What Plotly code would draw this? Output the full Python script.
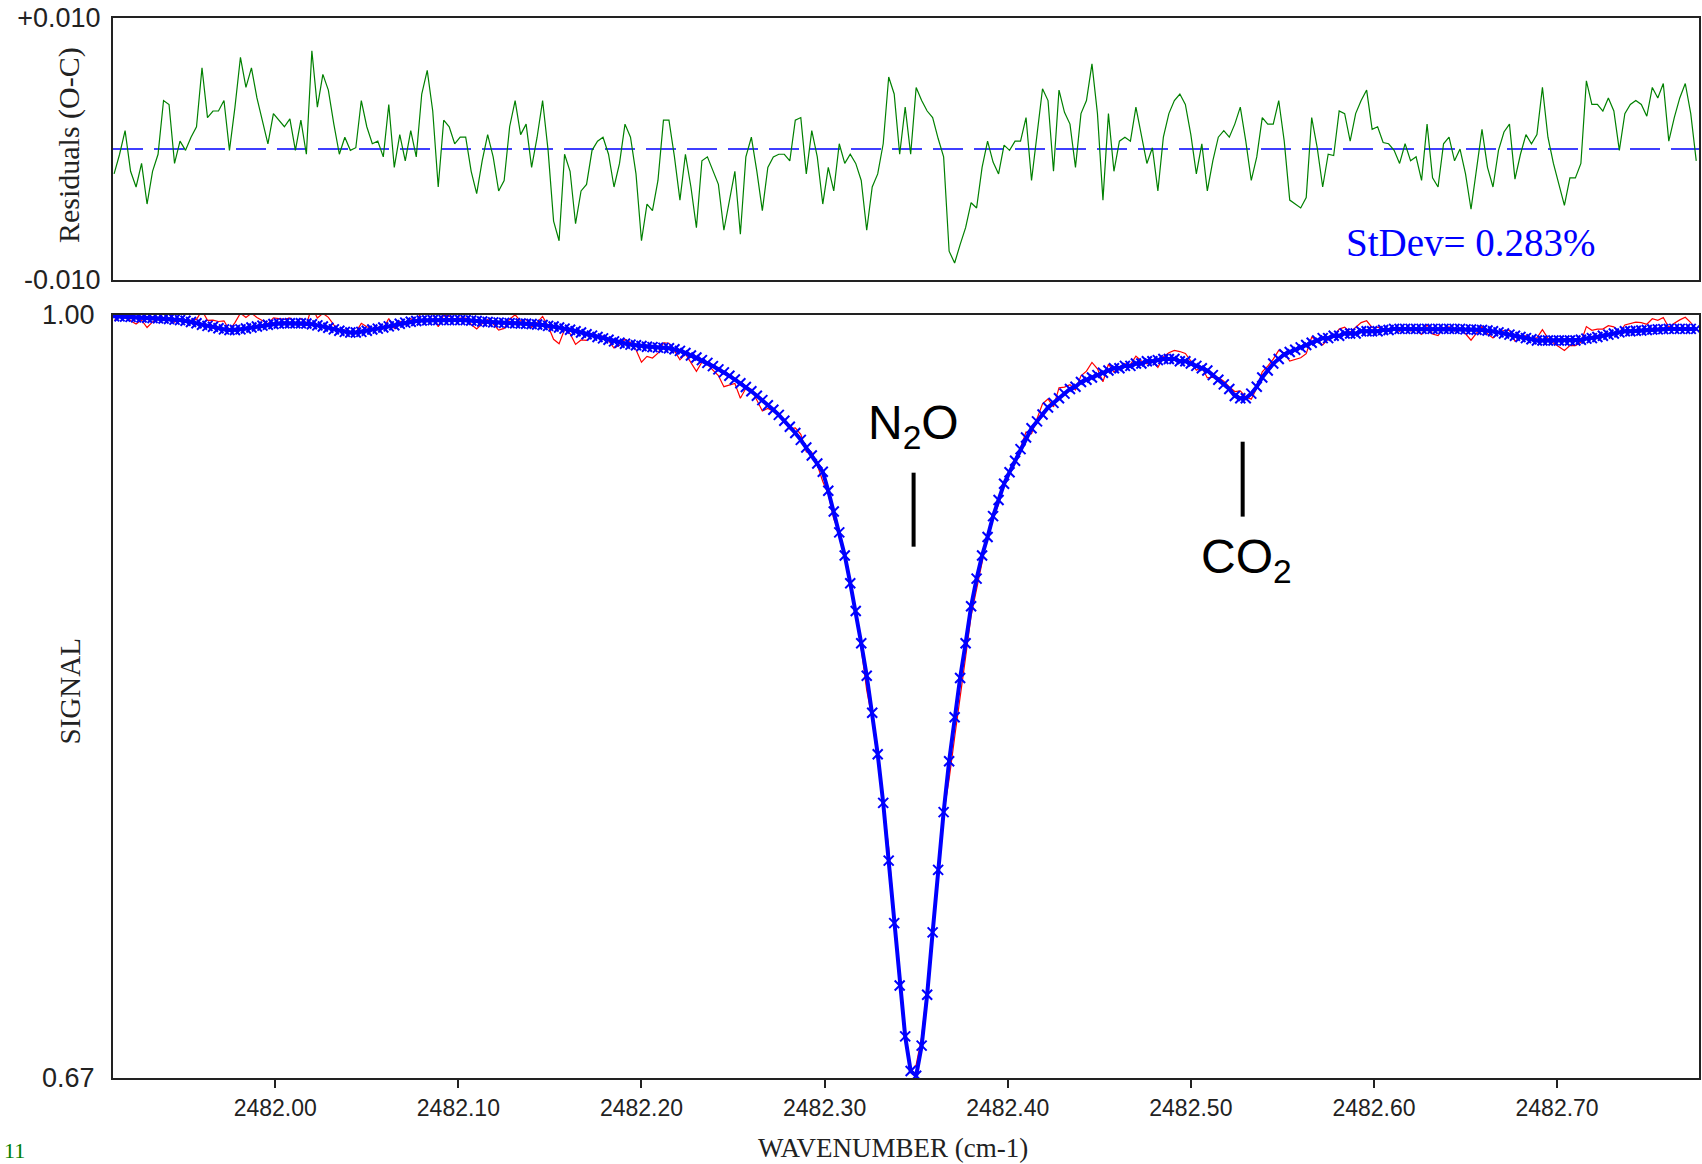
import plotly.graph_objects as go

# ---------------- data ----------------
WAVENUMBER = [
    2481.912, 2481.915, 2481.918, 2481.921, 2481.924, 2481.927, 2481.930, 2481.933, 2481.936, 2481.939,
    2481.942, 2481.945, 2481.948, 2481.951, 2481.954, 2481.957, 2481.960, 2481.963, 2481.966, 2481.969,
    2481.972, 2481.975, 2481.978, 2481.981, 2481.984, 2481.987, 2481.990, 2481.993, 2481.996, 2481.999,
    2482.002, 2482.005, 2482.008, 2482.011, 2482.014, 2482.017, 2482.020, 2482.023, 2482.026, 2482.029,
    2482.032, 2482.035, 2482.038, 2482.041, 2482.044, 2482.047, 2482.050, 2482.053, 2482.056, 2482.059,
    2482.062, 2482.065, 2482.068, 2482.071, 2482.074, 2482.077, 2482.080, 2482.083, 2482.086, 2482.089,
    2482.092, 2482.095, 2482.098, 2482.101, 2482.104, 2482.107, 2482.110, 2482.113, 2482.116, 2482.119,
    2482.122, 2482.125, 2482.128, 2482.131, 2482.134, 2482.137, 2482.140, 2482.143, 2482.146, 2482.149,
    2482.152, 2482.155, 2482.158, 2482.161, 2482.164, 2482.167, 2482.170, 2482.173, 2482.176, 2482.179,
    2482.182, 2482.185, 2482.188, 2482.191, 2482.194, 2482.197, 2482.200, 2482.203, 2482.206, 2482.209,
    2482.212, 2482.215, 2482.218, 2482.221, 2482.224, 2482.227, 2482.230, 2482.233, 2482.236, 2482.239,
    2482.242, 2482.245, 2482.248, 2482.251, 2482.254, 2482.257, 2482.260, 2482.263, 2482.266, 2482.269,
    2482.272, 2482.275, 2482.278, 2482.281, 2482.284, 2482.287, 2482.290, 2482.293, 2482.296, 2482.299,
    2482.302, 2482.305, 2482.308, 2482.311, 2482.314, 2482.317, 2482.320, 2482.323, 2482.326, 2482.329,
    2482.332, 2482.335, 2482.338, 2482.341, 2482.344, 2482.347, 2482.350, 2482.353, 2482.356, 2482.359,
    2482.362, 2482.365, 2482.368, 2482.371, 2482.374, 2482.377, 2482.380, 2482.383, 2482.386, 2482.389,
    2482.392, 2482.395, 2482.398, 2482.401, 2482.404, 2482.407, 2482.410, 2482.413, 2482.416, 2482.419,
    2482.422, 2482.425, 2482.428, 2482.431, 2482.434, 2482.437, 2482.440, 2482.443, 2482.446, 2482.449,
    2482.452, 2482.455, 2482.458, 2482.461, 2482.464, 2482.467, 2482.470, 2482.473, 2482.476, 2482.479,
    2482.482, 2482.485, 2482.488, 2482.491, 2482.494, 2482.497, 2482.500, 2482.503, 2482.506, 2482.509,
    2482.512, 2482.515, 2482.518, 2482.521, 2482.524, 2482.527, 2482.530, 2482.533, 2482.536, 2482.539,
    2482.542, 2482.545, 2482.548, 2482.551, 2482.554, 2482.557, 2482.560, 2482.563, 2482.566, 2482.569,
    2482.572, 2482.575, 2482.578, 2482.581, 2482.584, 2482.587, 2482.590, 2482.593, 2482.596, 2482.599,
    2482.602, 2482.605, 2482.608, 2482.611, 2482.614, 2482.617, 2482.620, 2482.623, 2482.626, 2482.629,
    2482.632, 2482.635, 2482.638, 2482.641, 2482.644, 2482.647, 2482.650, 2482.653, 2482.656, 2482.659,
    2482.662, 2482.665, 2482.668, 2482.671, 2482.674, 2482.677, 2482.680, 2482.683, 2482.686, 2482.689,
    2482.692, 2482.695, 2482.698, 2482.701, 2482.704, 2482.707, 2482.710, 2482.713, 2482.716, 2482.719,
    2482.722, 2482.725, 2482.728, 2482.731, 2482.734, 2482.737, 2482.740, 2482.743, 2482.746, 2482.749,
    2482.752, 2482.755, 2482.758, 2482.761, 2482.764, 2482.767, 2482.770, 2482.773, 2482.776,
]

# calculated (fitted) signal - blue crosses
FIT_SIGNAL = [
    0.9995, 0.9994, 0.9993, 0.9992, 0.9990, 0.9989, 0.9988, 0.9987, 0.9986, 0.9985,
    0.9983, 0.9980, 0.9978, 0.9975, 0.9970, 0.9964, 0.9958, 0.9953, 0.9949, 0.9943,
    0.9938, 0.9935, 0.9935, 0.9938, 0.9942, 0.9946, 0.9950, 0.9954, 0.9958, 0.9961,
    0.9963, 0.9964, 0.9964, 0.9964, 0.9964, 0.9963, 0.9960, 0.9955, 0.9950, 0.9945,
    0.9938, 0.9932, 0.9927, 0.9924, 0.9924, 0.9927, 0.9932, 0.9937, 0.9941, 0.9946,
    0.9951, 0.9956, 0.9962, 0.9967, 0.9971, 0.9974, 0.9976, 0.9977, 0.9978, 0.9978,
    0.9978, 0.9978, 0.9978, 0.9978, 0.9978, 0.9976, 0.9974, 0.9972, 0.9970, 0.9968,
    0.9967, 0.9966, 0.9965, 0.9964, 0.9963, 0.9962, 0.9961, 0.9959, 0.9957, 0.9953,
    0.9950, 0.9946, 0.9941, 0.9936, 0.9930, 0.9924, 0.9917, 0.9911, 0.9905, 0.9899,
    0.9893, 0.9886, 0.9880, 0.9876, 0.9872, 0.9869, 0.9866, 0.9863, 0.9861, 0.9859,
    0.9858, 0.9856, 0.9852, 0.9845, 0.9836, 0.9825, 0.9816, 0.9805, 0.9793, 0.9779,
    0.9765, 0.9752, 0.9737, 0.9721, 0.9705, 0.9689, 0.9670, 0.9651, 0.9632, 0.9610,
    0.9590, 0.9568, 0.9543, 0.9517, 0.9490, 0.9460, 0.9427, 0.9392, 0.9358, 0.9322,
    0.9240, 0.9150, 0.9060, 0.8960, 0.8840, 0.8720, 0.8580, 0.8440, 0.8280, 0.8100,
    0.7890, 0.7640, 0.7370, 0.7100, 0.6880, 0.6730, 0.6710, 0.6840, 0.7060, 0.7330,
    0.7600, 0.7850, 0.8070, 0.8260, 0.8430, 0.8580, 0.8740, 0.8860, 0.8960, 0.9040,
    0.9130, 0.9200, 0.9270, 0.9320, 0.9370, 0.9420, 0.9470, 0.9510, 0.9540, 0.9570,
    0.9600, 0.9620, 0.9640, 0.9660, 0.9680, 0.9690, 0.9710, 0.9720, 0.9730, 0.9740,
    0.9750, 0.9760, 0.9770, 0.9770, 0.9780, 0.9780, 0.9790, 0.9790, 0.9800, 0.9800,
    0.9805, 0.9810, 0.9810, 0.9810, 0.9800, 0.9800, 0.9790, 0.9780, 0.9770, 0.9760,
    0.9740, 0.9720, 0.9700, 0.9680, 0.9650, 0.9640, 0.9640, 0.9660, 0.9690, 0.9730,
    0.9760, 0.9790, 0.9810, 0.9830, 0.9840, 0.9850, 0.9860, 0.9870, 0.9880, 0.9890,
    0.9900, 0.9900, 0.9910, 0.9910, 0.9920, 0.9920, 0.9920, 0.9930, 0.9930, 0.9930,
    0.9930, 0.9935, 0.9935, 0.9940, 0.9940, 0.9940, 0.9940, 0.9940, 0.9940, 0.9940,
    0.9940, 0.9940, 0.9940, 0.9940, 0.9940, 0.9940, 0.9938, 0.9937, 0.9936, 0.9935,
    0.9933, 0.9930, 0.9925, 0.9920, 0.9915, 0.9910, 0.9905, 0.9900, 0.9895, 0.9890,
    0.9890, 0.9890, 0.9890, 0.9890, 0.9890, 0.9890, 0.9890, 0.9893, 0.9898, 0.9900,
    0.9905, 0.9910, 0.9915, 0.9920, 0.9925, 0.9930, 0.9930, 0.9932, 0.9933, 0.9935,
    0.9937, 0.9938, 0.9939, 0.9940, 0.9940, 0.9940, 0.9940, 0.9940, 0.9940,
]

# residuals observed - calculated (green trace)
RESIDUALS = [
    -0.0019, -0.0004, 0.0014, -0.0017, -0.0029, -0.0011, -0.0042, -0.0017, -0.0004, 0.0037,
    0.0034, -0.0011, 0.0006, -0.0001, 0.0009, 0.0017, 0.0062, 0.0024, 0.0029, 0.0029,
    0.0037, -0.0001, 0.0032, 0.0070, 0.0047, 0.0062, 0.0039, 0.0022, 0.0004, 0.0027,
    0.0022, 0.0017, 0.0023, -0.0001, 0.0022, -0.0004, 0.0075, 0.0032, 0.0057, 0.0045,
    0.0019, -0.0004, 0.0009, -0.0001, 0.0001, 0.0037, 0.0017, 0.0004, 0.0006, -0.0006,
    0.0034, -0.0014, 0.0011, -0.0009, 0.0014, -0.0006, 0.0042, 0.0060, 0.0029, -0.0029,
    0.0022, 0.0017, 0.0004, 0.0009, 0.0009, -0.0017, -0.0034, -0.0009, 0.0011, -0.0006,
    -0.0032, -0.0024, 0.0017, 0.0037, 0.0011, 0.0019, -0.0014, 0.0009, 0.0037, -0.0001,
    -0.0055, -0.0070, -0.0004, -0.0017, -0.0057, -0.0032, -0.0027, -0.0001, 0.0006, 0.0009,
    -0.0004, -0.0029, -0.0011, 0.0019, 0.0009, -0.0019, -0.0070, -0.0042, -0.0047, -0.0024,
    0.0022, 0.0022, -0.0006, -0.0039, -0.0004, -0.0029, -0.0060, -0.0009, -0.0006, -0.0017,
    -0.0027, -0.0062, -0.0039, -0.0017, -0.0065, -0.0006, 0.0009, -0.0017, -0.0047, -0.0014,
    -0.0006, -0.0004, -0.0004, -0.0009, 0.0022, 0.0024, -0.0019, 0.0014, -0.0006, -0.0042,
    -0.0014, -0.0032, 0.0004, -0.0011, -0.0004, -0.0011, -0.0024, -0.0062, -0.0029, -0.0019,
    0.0004, 0.0055, 0.0042, -0.0004, 0.0032, -0.0004, 0.0047, 0.0037, 0.0029, 0.0024,
    0.0008, -0.0006, -0.0078, -0.0087, -0.0073, -0.0060, -0.0041, -0.0045, -0.0014, 0.0006,
    -0.0010, -0.0019, 0.0003, -0.0001, 0.0006, 0.0006, 0.0024, -0.0024, 0.0011, 0.0046,
    0.0037, -0.0017, 0.0045, 0.0028, 0.0019, -0.0014, 0.0027, 0.0037, 0.0065, 0.0027,
    -0.0039, 0.0027, -0.0017, 0.0006, 0.0009, 0.0006, 0.0032, 0.0011, -0.0011, 0.0001,
    -0.0032, 0.0009, 0.0027, 0.0037, 0.0042, 0.0034, 0.0011, -0.0019, 0.0004, -0.0032,
    -0.0009, 0.0009, 0.0014, 0.0009, 0.0019, 0.0032, 0.0006, -0.0024, -0.0006, 0.0024,
    0.0019, 0.0019, 0.0037, 0.0006, -0.0039, -0.0042, -0.0045, -0.0037, 0.0024, 0.0001,
    -0.0029, -0.0004, -0.0005, 0.0029, 0.0027, 0.0006, 0.0027, 0.0037, 0.0045, 0.0015,
    0.0017, 0.0005, 0.0004, -0.0001, -0.0011, 0.0004, -0.0009, -0.0006, -0.0024, 0.0019,
    -0.0022, -0.0029, 0.0004, 0.0009, -0.0009, 0.0000, -0.0019, -0.0046, -0.0014, 0.0015,
    -0.0014, -0.0029, -0.0001, 0.0013, 0.0019, -0.0023, -0.0004, 0.0011, 0.0004, 0.0011,
    0.0047, 0.0009, -0.0011, -0.0027, -0.0043, -0.0022, -0.0022, -0.0011, 0.0052, 0.0034,
    0.0034, 0.0029, 0.0039, 0.0029, -0.0001, 0.0027, 0.0034, 0.0037, 0.0034, 0.0025,
    0.0047, 0.0039, 0.0050, 0.0006, 0.0024, 0.0039, 0.0050, 0.0027, -0.0009,
]

X_TICK_VALUES = [2482.00, 2482.10, 2482.20, 2482.30, 2482.40, 2482.50, 2482.60, 2482.70]
X_TICK_LABELS = ["2482.00", "2482.10", "2482.20", "2482.30", "2482.40", "2482.50", "2482.60", "2482.70"]
SIGNAL_TICK_VALUES = [0.67, 1.00]
SIGNAL_TICK_LABELS = ["0.67", "1.00"]
RESID_TICK_VALUES = [-0.010, 0.010]
RESID_TICK_LABELS = ["-0.010", "+0.010"]
X_RANGE = [2481.9114, 2482.7775]
SIGNAL_RANGE = [0.67, 1.00]
RESID_RANGE = [-0.010, 0.010]

N2O_LINE = 2482.3486
CO2_LINE = 2482.5283
STDEV_TEXT = "StDev= 0.283%"

# observed signal (red) = calculated + residual
OBSERVED_SIGNAL = [f + r for f, r in zip(FIT_SIGNAL, RESIDUALS)]

# ---------------- figure ----------------
AXIS_COLOR = "#222222"
SERIF = "Liberation Serif, Times New Roman, serif"
SANS = "Liberation Sans, Arial, sans-serif"
NARROW = "Liberation Sans Narrow, Arial Narrow, Liberation Sans, sans-serif"

fig = go.Figure()

fig.add_trace(go.Scatter(
    x=WAVENUMBER, y=RESIDUALS, xaxis="x2", yaxis="y2", mode="lines",
    line=dict(color="#008000", width=1.2), hoverinfo="skip"))

fig.add_trace(go.Scatter(
    x=WAVENUMBER, y=OBSERVED_SIGNAL, xaxis="x", yaxis="y", mode="lines",
    line=dict(color="#FF0000", width=1.2), hoverinfo="skip"))

fig.add_trace(go.Scatter(
    x=WAVENUMBER, y=FIT_SIGNAL, xaxis="x", yaxis="y", mode="lines+markers",
    line=dict(color="#0000FF", width=4),
    marker=dict(symbol="x-thin", size=10, color="#0000FF",
                line=dict(color="#0000FF", width=2)),
    hoverinfo="skip"))

fig.update_layout(
    width=1702, height=1164,
    margin=dict(l=113, r=1, t=18, b=86),
    paper_bgcolor="white", plot_bgcolor="white",
    showlegend=False,
    xaxis=dict(
        domain=[0, 1], anchor="y", range=X_RANGE,
        tickmode="array", tickvals=X_TICK_VALUES, ticktext=X_TICK_LABELS,
        ticks="outside", ticklen=8, tickwidth=2, tickcolor=AXIS_COLOR,
        ticklabelstandoff=0,
        tickfont=dict(family=NARROW, size=23, color="#222222"),
        showline=True, mirror=True, linecolor=AXIS_COLOR, linewidth=2,
        showgrid=False, zeroline=False),
    yaxis=dict(
        domain=[0, 0.7198], anchor="x", range=SIGNAL_RANGE,
        tickmode="array", tickvals=SIGNAL_TICK_VALUES, ticktext=SIGNAL_TICK_LABELS,
        ticks="", ticklabelstandoff=11,
        tickfont=dict(family=SANS, size=27, color="#222222"),
        showline=True, mirror=True, linecolor=AXIS_COLOR, linewidth=2,
        showgrid=False, zeroline=False),
    xaxis2=dict(
        domain=[0, 1], anchor="y2", range=X_RANGE, matches="x",
        showticklabels=False, ticks="",
        showline=True, mirror=True, linecolor=AXIS_COLOR, linewidth=2,
        showgrid=False, zeroline=False),
    yaxis2=dict(
        domain=[0.7528, 1], anchor="x2", range=RESID_RANGE,
        tickmode="array", tickvals=RESID_TICK_VALUES, ticktext=RESID_TICK_LABELS,
        ticks="", ticklabelstandoff=5,
        tickfont=dict(family=SANS, size=27, color="#222222"),
        showline=True, mirror=True, linecolor=AXIS_COLOR, linewidth=2,
        showgrid=False, zeroline=False),
)

# zero reference line of the residual panel
fig.add_shape(type="line", xref="x2 domain", yref="y2", x0=0, x1=1, y0=0, y1=0,
              line=dict(color="#0000FF", width=1.6, dash="30px,11px"), layer="below")

# species marker bars
fig.add_shape(type="line", xref="x", yref="y", x0=N2O_LINE, x1=N2O_LINE, y0=0.8998, y1=0.9318,
              line=dict(color="black", width=4))
fig.add_shape(type="line", xref="x", yref="y", x0=CO2_LINE, x1=CO2_LINE, y0=0.9128, y1=0.9452,
              line=dict(color="black", width=4))

annotations = [
    dict(text="N<sub>2</sub>O", x=N2O_LINE, y=0.952, xref="x", yref="y",
         xanchor="center", yanchor="middle", showarrow=False,
         font=dict(family=SANS, size=48, color="black")),
    dict(text="CO<sub>2</sub>", x=2482.5305, y=0.894, xref="x", yref="y",
         xanchor="center", yanchor="middle", showarrow=False,
         font=dict(family=SANS, size=48, color="black")),
    dict(text=STDEV_TEXT, x=2482.6525, y=-0.0071, xref="x2", yref="y2",
         xanchor="center", yanchor="middle", showarrow=False,
         font=dict(family=SERIF, size=39, color="#0000FF")),
    dict(text="WAVENUMBER (cm-1)", x=0.4918, y=-0.0656, xref="paper", yref="paper",
         xanchor="center", yanchor="middle", showarrow=False,
         font=dict(family=SERIF, size=27, color="#222222")),
    dict(text="SIGNAL", x=-0.0273, y=0.3644, xref="paper", yref="paper",
         xanchor="center", yanchor="middle", showarrow=False, textangle=-90,
         font=dict(family=SERIF, size=29, color="#222222")),
    dict(text="Residuals (O-C)", x=-0.0277, y=0.8802, xref="paper", yref="paper",
         xanchor="center", yanchor="middle", showarrow=False, textangle=-90,
         font=dict(family=SERIF, size=30, color="#222222")),
    dict(text="11", x=-0.0623, y=-0.0811, xref="paper", yref="paper",
         xanchor="center", yanchor="bottom", showarrow=False, borderpad=0,
         font=dict(family=SERIF, size=22, color="#008000")),
]
fig.update_layout(annotations=annotations)

fig.write_html("out.html")
